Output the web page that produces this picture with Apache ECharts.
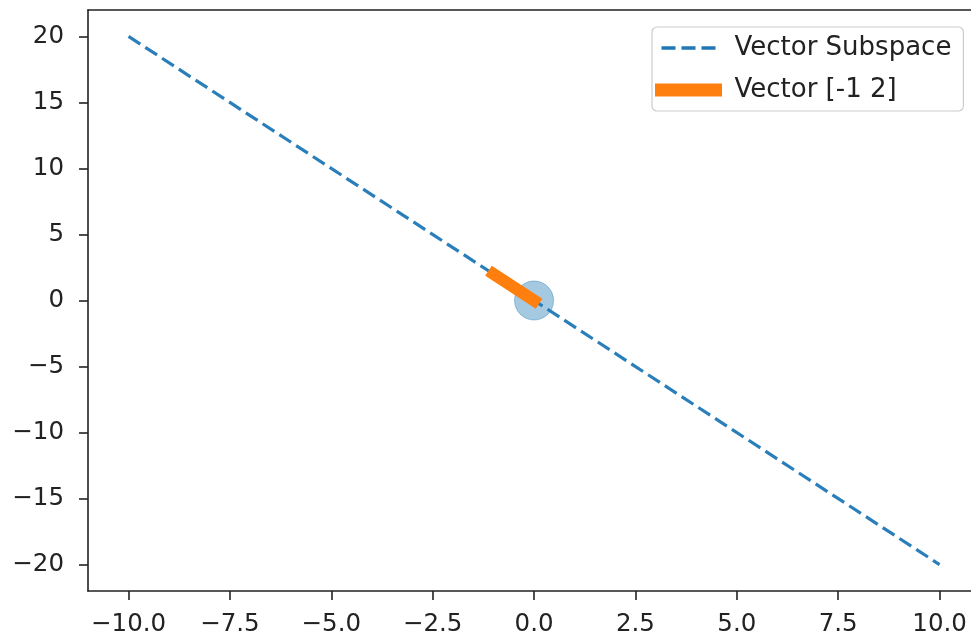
<!DOCTYPE html>
<html>
<head>
<meta charset="utf-8">
<script src="https://cdn.jsdelivr.net/npm/echarts@6/dist/echarts.min.js"></script>
<style>html,body{margin:0;padding:0;background:#fff}#c{width:971px;height:641px}</style>
</head>
<body>
<div id="c"></div>
<script>
// Data
const subspaceX = [-10, 10];
const subspaceY = [20, -20];
const vectorX = [0, -1];
const vectorY = [0, 2];
const originX = [0];
const originY = [0];
const xTicks = [-10, -7.5, -5, -2.5, 0, 2.5, 5, 7.5, 10];
const xTickLabels = ['\u221210.0', '\u22127.5', '\u22125.0', '\u22122.5', '0.0', '2.5', '5.0', '7.5', '10.0'];
const yTicks = [-20, -15, -10, -5, 0, 5, 10, 15, 20];
const yTickLabels = ['\u221220', '\u221215', '\u221210', '\u22125', '0', '5', '10', '15', '20'];

const zip = (a, b) => a.map((v, i) => [v, b[i]]);
const FONT = 'DejaVu Sans';
const AX = '#222';

const chart = echarts.init(document.getElementById('c'), null, {renderer: 'canvas'});
chart.setOption({
  animation: false,
  backgroundColor: '#fff',
  // plot area is clipped at the right edge of the picture (x range -11..11 extends beyond)
  grid: {left: 88, top: 10, height: 581, right: 0, show: false},
  xAxis: [{
    type: 'value', min: -11, max: 10.775,
    axisLine: {show: true, onZero: false, lineStyle: {color: AX, width: 1.6}},
    axisTick: {show: true, customValues: xTicks, length: 9, lineStyle: {color: AX, width: 1.6}},
    axisLabel: {customValues: xTicks, margin: 21, color: AX, fontFamily: FONT, fontSize: 24.5,
      formatter: v => xTickLabels[xTicks.indexOf(v)]},
    splitLine: {show: false}
  }, {
    type: 'value', position: 'top', min: -11, max: 10.775,
    axisLine: {show: true, onZero: false, lineStyle: {color: AX, width: 1.6}},
    axisTick: {show: false}, axisLabel: {show: false}, splitLine: {show: false}
  }],
  yAxis: {
    type: 'value', min: -22, max: 22,
    axisLine: {show: true, onZero: false, lineStyle: {color: AX, width: 1.6}},
    axisTick: {show: true, customValues: yTicks, length: 9, lineStyle: {color: AX, width: 1.6}},
    axisLabel: {customValues: yTicks, margin: 24, color: AX, fontFamily: FONT, fontSize: 24.5,
      formatter: v => yTickLabels[yTicks.indexOf(v)]},
    splitLine: {show: false}
  },
  legend: {
    orient: 'vertical', left: 652, top: 27,
    padding: [8, 12, 8, 3], itemGap: 16,
    itemWidth: 54, itemHeight: 14,
    borderColor: '#ccc', borderWidth: 1.2, borderRadius: 5,
    backgroundColor: 'rgba(255,255,255,0.8)',
    itemStyle: {opacity: 0},
    textStyle: {fontFamily: FONT, fontSize: 26, color: AX, padding: [0, 0, 0, 14]},
    data: [
      {name: 'Vector Subspace', itemStyle: {opacity: 0}, lineStyle: {color: '#1f77b4', width: 3.5, type: [14, 6], cap: 'butt'}},
      {name: 'Vector [-1 2]', itemStyle: {opacity: 0}, lineStyle: {color: '#ff7f0e', width: 13, type: 'solid', cap: 'square'}}
    ]
  },
  series: [
    {
      name: 'Vector Subspace', type: 'line', data: zip(subspaceX, subspaceY),
      symbol: 'none', lineStyle: {color: '#2a7fba', width: 3.2, type: [14, 6]},
      itemStyle: {color: '#1f77b4'}, z: 2
    },
    {
      name: 'origin', type: 'scatter', data: zip(originX, originY),
      symbolSize: 39, itemStyle: {color: 'rgba(31,119,180,0.5)', borderColor: 'rgba(31,119,180,0.5)', borderWidth: 1}, z: 3
    },
    {
      name: 'Vector [-1 2]', type: 'line', data: zip(vectorX, vectorY),
      symbol: 'none', lineStyle: {color: '#ff7f0e', width: 12, cap: 'square'},
      itemStyle: {color: '#ff7f0e'}, z: 4
    }
  ]
});
</script>
</body>
</html>
